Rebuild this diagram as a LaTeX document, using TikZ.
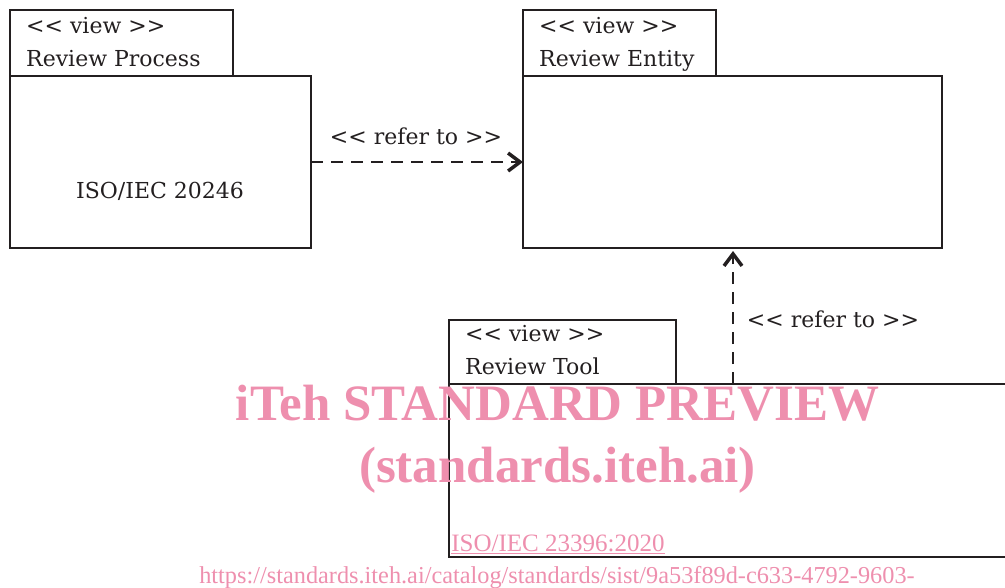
\documentclass[tikz,border=0pt]{standalone}
\usepackage{fontspec}
\setmainfont{DejaVu Serif}
\newfontfamily\wmfont{Liberation Serif}
\usetikzlibrary{arrows.meta}
\definecolor{wmpink}{RGB}{238,143,174}
\definecolor{ink}{RGB}{35,31,32}
\newcommand\ltlt{<\kern0pt<}
\newcommand\gtgt{>\kern0pt>}
\begin{document}
\begin{tikzpicture}[x=1pt,y=-1pt,
  box/.style={draw=ink, line width=2.5pt, inner sep=0pt, outer sep=0pt, anchor=north west},
  lbl/.style={text=ink, font=\fontsize{22}{26}\selectfont, inner sep=0pt, anchor=base west},
  lblc/.style={text=ink, font=\fontsize{22}{26}\selectfont, inner sep=0pt, anchor=base},
  conn/.style={draw=ink, line width=2.5pt, dash pattern=on 12pt off 8pt,
    -{Straight Barb[length=12pt,width=18pt,line width=3.5pt]}},
  wmbig/.style={text=wmpink, inner sep=0pt, anchor=base, font=\wmfont\bfseries\fontsize{51}{60}\selectfont},
  wmsmall/.style={text=wmpink, inner sep=0pt, anchor=base, font=\wmfont\fontsize{24.3}{28}\selectfont}]
\useasboundingbox (0,0) rectangle (1005,587);
% Review Process
\node[box, minimum width=223pt, minimum height=66pt] (rpTab) at (10,10) {};
\node[box, minimum width=301pt, minimum height=172pt] (rpBody) at (10,76) {};
\node[lbl] (rpSt) at (26,33) {\ltlt{} view \gtgt};
\node[lbl] (rpName) at (26,66) {Review Process};
\node[lblc] (rpStd) at (160,198) {ISO/IEC 20246};
% Review Entity
\node[box, minimum width=193pt, minimum height=66pt] (reTab) at (523,10) {};
\node[box, minimum width=419pt, minimum height=172pt] (reBody) at (523,76) {};
\node[lbl] (reSt) at (539,33) {\ltlt{} view \gtgt};
\node[lbl] (reName) at (539,66) {Review Entity};
% Review Tool
\node[box, minimum width=227pt, minimum height=64pt] (rtTab) at (449,320) {};
\node[box, minimum width=570pt, minimum height=173pt] (rtBody) at (449,384) {};
\node[lbl] (rtSt) at (465,341) {\ltlt{} view \gtgt};
\node[lbl] (rtName) at (465,374) {Review Tool};
% connectors
\coordinate (a2) at (733,0);
\draw[conn] (rpBody.east) -- (reBody.west);
\draw[conn] (rtBody.north -| a2) -- ([yshift=-3pt]reBody.south -| a2);
\node[lblc] (ref1) at (416,144) {\ltlt{} refer to \gtgt};
\node[lblc] (ref2) at (833,327) {\ltlt{} refer to \gtgt};
% watermark
\node[wmbig] (w1) at (557.5,420) {iTeh STANDARD PREVIEW};
\node[wmbig] (w2) at (557.5,482) {(standards.iteh.ai)};
\node[wmsmall, font=\wmfont\fontsize{25}{30}\selectfont] (w3) at (558,551) {\underline{ISO/IEC 23396:2020}};
\node[wmsmall] (w4) at (557,583) {https://standards.iteh.ai/catalog/standards/sist/9a53f89d-c633-4792-9603-};
\end{tikzpicture}
\end{document}
